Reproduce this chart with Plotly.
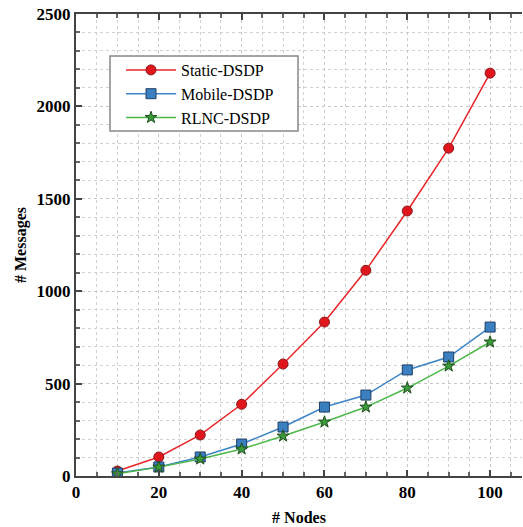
import plotly.graph_objects as go

nodes = [10, 20, 30, 40, 50, 60, 70, 80, 90, 100]
static_dsdp = [27, 103, 222, 388, 606, 833, 1113, 1434, 1774, 2180]
mobile_dsdp = [16, 49, 103, 173, 265, 373, 438, 574, 644, 806]
rlnc_dsdp = [12, 48, 92, 146, 216, 292, 373, 476, 595, 725]
series_names = ["Static-DSDP", "Mobile-DSDP", "RLNC-DSDP"]

font_serif = "Liberation Serif, Times New Roman, serif"

# plot area geometry (px) used to place legend frame in paper coords
L, R, T, B = 76, 522, 14, 476
PW, PH = R - L, B - T

def px_x(p):
    return (p - L) / PW

def px_y(p):
    return (B - p) / PH

fig = go.Figure()
fig.add_trace(go.Scatter(
    x=nodes, y=static_dsdp, name=series_names[0], mode="lines+markers",
    line=dict(color="#e8262a", width=1.5),
    marker=dict(symbol="circle", size=10, color="#e0161c", line=dict(color="#8a1a1a", width=1))))
fig.add_trace(go.Scatter(
    x=nodes, y=mobile_dsdp, name=series_names[1], mode="lines+markers",
    line=dict(color="#3d85c6", width=1.5),
    marker=dict(symbol="square", size=10, color="#3a7fbf", line=dict(color="#1f3f66", width=1))))
fig.add_trace(go.Scatter(
    x=nodes, y=rlnc_dsdp, name=series_names[2], mode="lines+markers",
    line=dict(color="#4db84a", width=1.5),
    marker=dict(symbol="star", size=9, color="#3b9a3a", line=dict(color="#1f4f1f", width=1))))

grid_style = dict(showgrid=True, gridcolor="#c8c8c8", gridwidth=1, griddash="dot")

fig.add_shape(type="rect", xref="paper", yref="paper",
              x0=px_x(110), x1=px_x(298), y0=px_y(131), y1=px_y(56),
              fillcolor="white", line=dict(color="#888888", width=1.5), layer="above")

fig.update_layout(
    width=523, height=527,
    margin=dict(l=L, r=523 - R, t=T, b=527 - B),
    paper_bgcolor="white", plot_bgcolor="white",
    font=dict(family=font_serif, color="black"),
    showlegend=True,
    legend=dict(x=px_x(121), y=px_y(53), xanchor="left", yanchor="top",
                bgcolor="rgba(0,0,0,0)", borderwidth=0,
                font=dict(family=font_serif, size=16, color="black"),
                itemwidth=50, tracegroupgap=0),
    xaxis=dict(range=[0, 107.7], tickmode="array", tickvals=[0, 20, 40, 60, 80, 100],
               ticktext=["0", "20", "40", "60", "80", "100"],
               ticks="inside", ticklen=6, tickwidth=1.5, tickcolor="#444444",
               showline=True, linecolor="#444444", linewidth=2, mirror="allticks",
               zeroline=False,
               tickfont=dict(family=font_serif, size=17, color="black", weight="bold"),
               title=dict(text="<b># Nodes</b>", font=dict(family=font_serif, size=16, color="black"), standoff=10),
               minor=dict(dtick=5, ticks="inside", ticklen=4, tickcolor="#666666",
                          showgrid=True, gridcolor="#d0d0d0", griddash="dot"),
               **grid_style),
    yaxis=dict(range=[0, 2500], tickmode="array", tickvals=[0, 500, 1000, 1500, 2000, 2500],
               ticks="inside", ticklen=6, tickwidth=1.5, tickcolor="#444444",
               showline=True, linecolor="#444444", linewidth=2, mirror=False,
               zeroline=False,
               tickfont=dict(family=font_serif, size=17, color="black", weight="bold"),
               title=dict(text="<b># Messages</b>", font=dict(family=font_serif, size=16, color="black"), standoff=6),
               minor=dict(dtick=100, ticks="inside", ticklen=4, tickcolor="#666666",
                          showgrid=True, gridcolor="#d0d0d0", griddash="dot"),
               **grid_style),
)

fig.write_html("out.html", config={"displayModeBar": False},
               post_script="document.body.style.margin='0';document.body.style.overflow='hidden';")
